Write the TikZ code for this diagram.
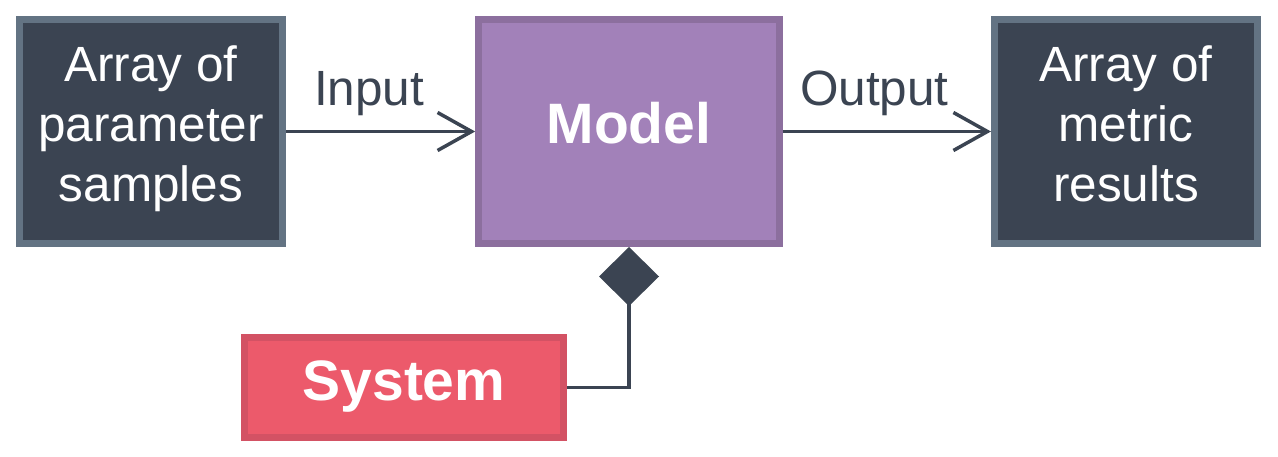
\documentclass[tikz,border=0pt]{standalone}
\usepackage{fontspec}
\setmainfont{Liberation Sans}
\usetikzlibrary{arrows.meta}
\definecolor{darkfill}{HTML}{3B4452}
\definecolor{darkborder}{HTML}{637383}
\definecolor{purplefill}{HTML}{A281B9}
\definecolor{purpleborder}{HTML}{8C6F9E}
\definecolor{redfill}{HTML}{EC5A6B}
\definecolor{redborder}{HTML}{D35264}
\definecolor{linecol}{HTML}{3B4452}
\newcommand{\lastdepth}{\rule[-15.5pt]{0pt}{1pt}}
\begin{document}
\begin{tikzpicture}[x=1pt,y=-1pt,
  box/.style={draw, line width=7pt, inner sep=0pt, text=white, align=center},
  darkbox/.style={box, fill=darkfill, draw=darkborder, minimum width=263pt, minimum height=224pt,
    font=\fontsize{49.5}{60}\selectfont},
  boldbox/.style={box, font=\fontsize{57}{68}\selectfont\bfseries, text height=42pt, text depth=17pt},
  flow/.style={draw=linecol, line width=3.5pt, -{Straight Barb[length=34pt, width=38pt]}},
  flowlabel/.style={text=linecol, font=\fontsize{49.5}{60}\selectfont, anchor=base, yshift=26pt},
  link/.style={draw=linecol, line width=3.5pt, -{Diamond[length=59pt, width=60pt]}}]
\useasboundingbox (0,0) rectangle (1278,457);
\node[darkbox] (params) at (151,131.5) {Array of\\parameter\\samples\lastdepth};
\node[boldbox, fill=purplefill, draw=purpleborder, minimum width=300.7pt, minimum height=224pt] (model) at (629,131.5) {Model};
\node[darkbox] (results) at (1126,131.5) {Array of\\metric\\results\lastdepth};
\node[boldbox, fill=redfill, draw=redborder, minimum width=318.7pt, minimum height=100pt] (system) at (404,387.5) {System};
\draw[flow] (params.east) -- node[flowlabel, pos=0.44] {Input} (model.west);
\draw[flow] (model.east) -- node[flowlabel, pos=0.44] {Output} (results.west);
\draw[link] (system.east) -| (model.south);
\end{tikzpicture}
\end{document}
